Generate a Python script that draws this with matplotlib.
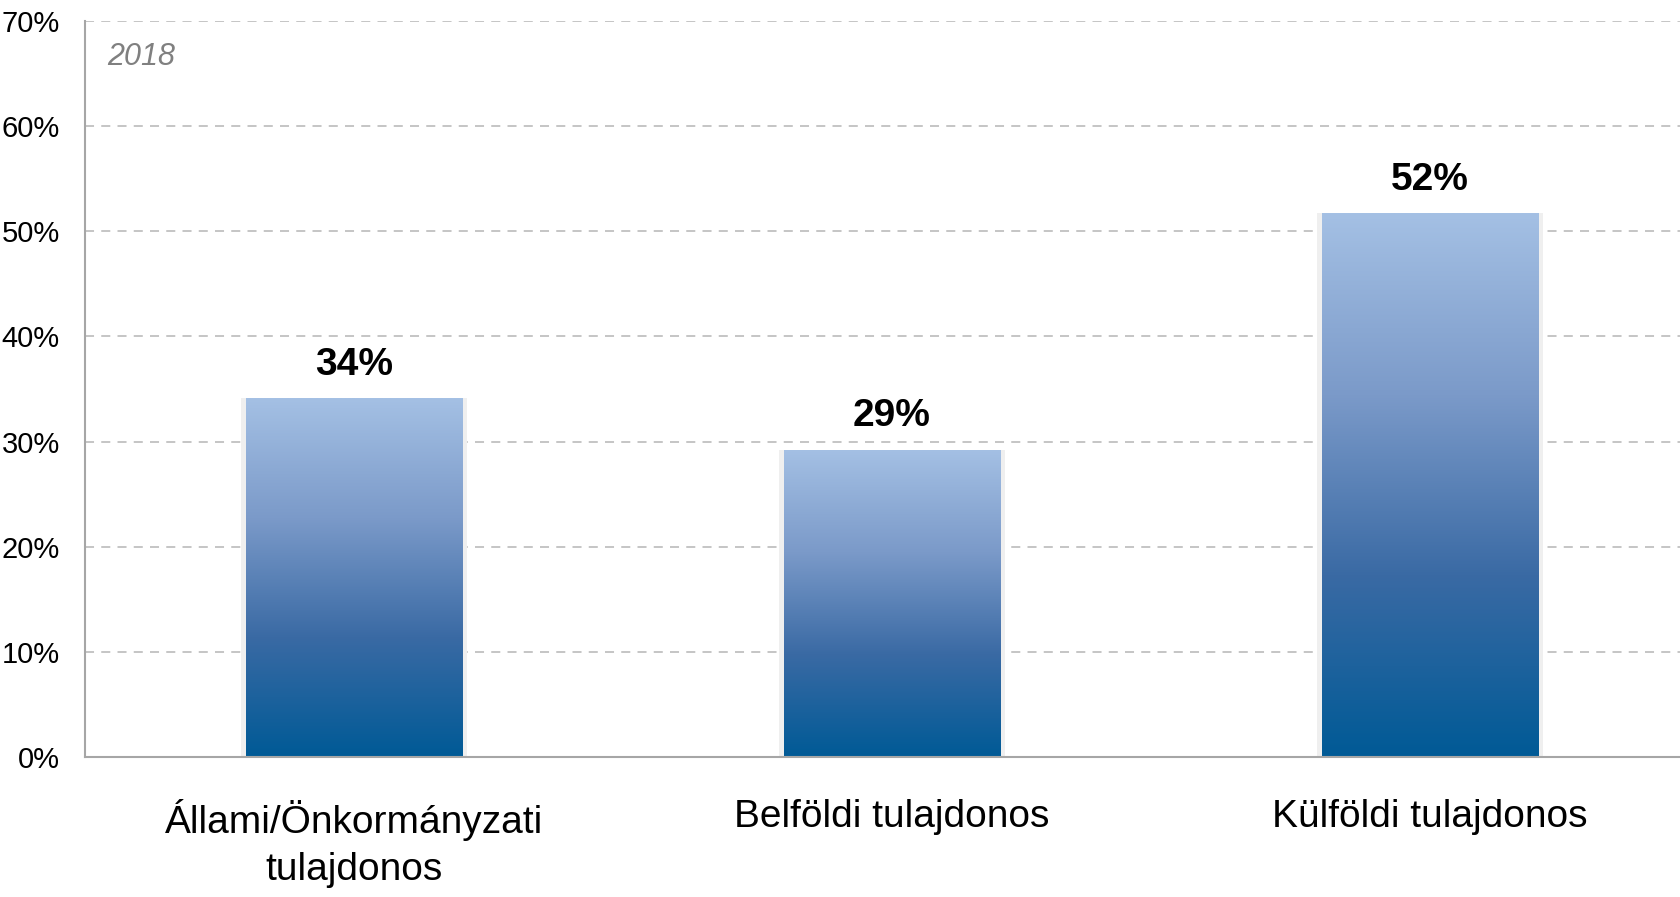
import matplotlib
matplotlib.use("Agg")
import matplotlib.pyplot as plt
import numpy as np
from matplotlib.colors import LinearSegmentedColormap
from matplotlib.ticker import FuncFormatter

plt.rcParams['font.family'] = ['Liberation Sans', 'DejaVu Sans']

categories = ["Állami/Önkormányzati\ntulajdonos", "Belföldi tulajdonos", "Külföldi tulajdonos"]
values = [34.1, 29.2, 51.7]
labels = ["34%", "29%", "52%"]
year_label = "2018"

fig = plt.figure(figsize=(16.8, 8.97), dpi=100)
# axes run a little past the right edge, like the original
ax = fig.add_axes([85 / 1680, 1 - 757 / 897, (1699 - 85) / 1680, (757 - 21) / 897])

x = np.arange(len(categories))
width = 0.403

# soft shadow behind bars
ax.bar(x, values, width=width + 0.016, color="#efefef", zorder=2)
bars = ax.bar(x, values, width=width, color="none", zorder=3)

cmap = LinearSegmentedColormap.from_list("grad", ["#005a96", "#3a6aa4", "#7b9ac9", "#a4c0e4"])
grad = np.linspace(0, 1, 256).reshape(-1, 1)
for b in bars:
    x0, y0 = b.get_x(), b.get_y()
    im = ax.imshow(grad, cmap=cmap, origin="lower", aspect="auto",
                   extent=[x0, x0 + b.get_width(), y0, y0 + b.get_height()],
                   zorder=3)
    im.set_clip_path(b)

for xi, v, lab in zip(x, values, labels):
    ax.text(xi, v + 1.5, lab, ha="center", va="bottom", fontsize=28,
            fontweight="bold", color="black", zorder=4)

ax.set_xlim(-0.5, 2.5)
ax.set_ylim(0, 70)
ax.set_yticks(np.arange(0, 71, 10))
ax.yaxis.set_major_formatter(FuncFormatter(lambda v, p: f"{v:.0f}%"))
ax.set_xticks(x)
ax.set_xticklabels(categories, fontsize=28, linespacing=1.4)
ax.tick_params(axis="y", length=0, pad=18, labelsize=21)
ax.tick_params(axis="x", length=0, pad=30)

ax.grid(axis="y", linestyle=(0, (5, 4)), color="#c0c0c0", linewidth=1.3, zorder=1)
ax.set_axisbelow(True)
for s in ["top", "right"]:
    ax.spines[s].set_visible(False)
ax.spines["left"].set_color("#a6a6a6")
ax.spines["bottom"].set_color("#a6a6a6")
ax.spines["left"].set_linewidth(1.5)
ax.spines["bottom"].set_linewidth(1.5)
ax.spines["bottom"].set_zorder(5)

ax.text(107 / 1680, 1 - 42 / 897, year_label, transform=fig.transFigure,
        fontsize=22, style="italic", color="#808080", ha="left", va="top")

fig.savefig("out.png", dpi=100)
